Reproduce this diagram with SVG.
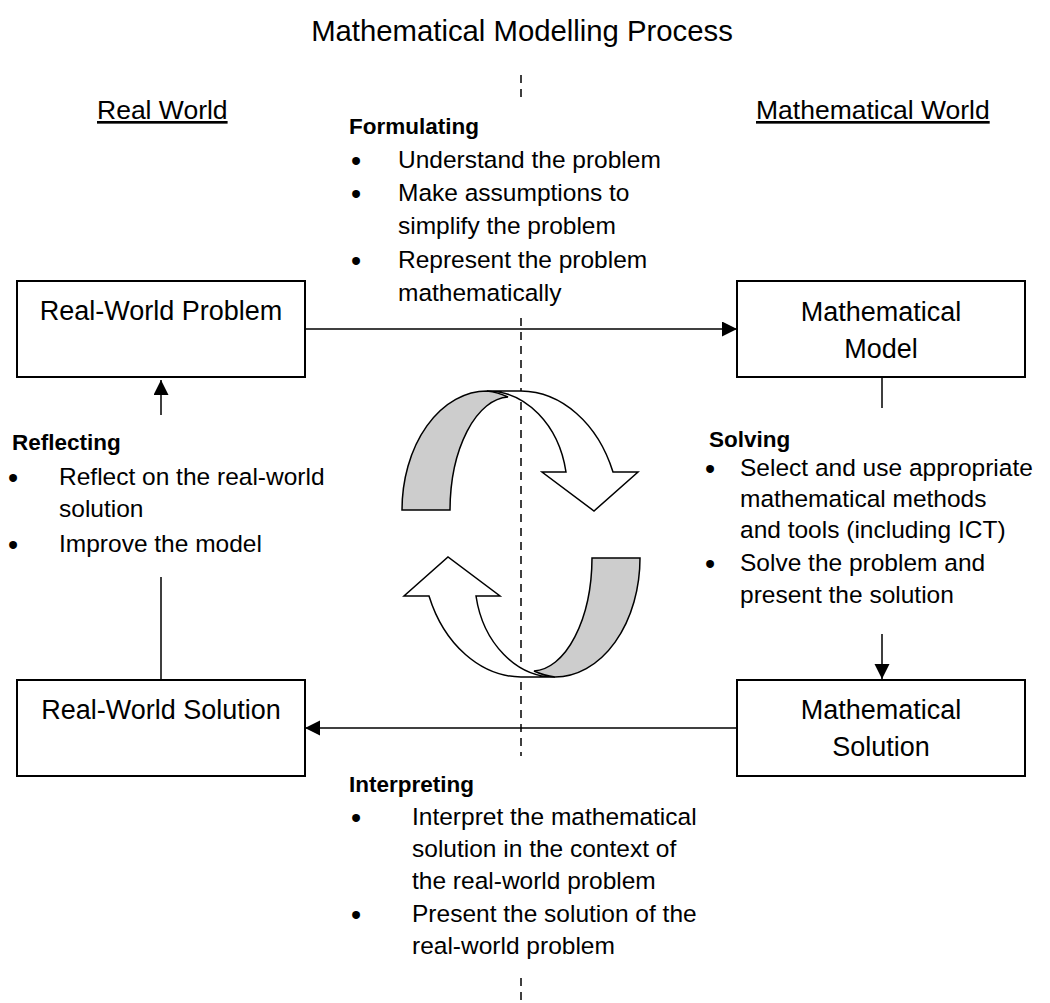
<svg xmlns="http://www.w3.org/2000/svg" width="1050" height="1003" viewBox="0 0 1050 1003">
<defs>
<style>
.t{font-family:"Liberation Sans",Arial,sans-serif;fill:#000}
.title{font-size:29.3px;text-anchor:middle}
.world{font-size:26.5px;text-decoration:underline}
.body{font-size:24.5px}
.head{font-size:22.5px;font-weight:bold}
.bul{font-size:29px}
.boxt{font-size:27px;text-anchor:middle}
.box{fill:#fff;stroke:#000;stroke-width:2}
.conn{fill:none;stroke:#000;stroke-width:1.5}
.dash{fill:none;stroke:#000;stroke-width:1.5;stroke-dasharray:8 6}
.band{stroke:#000;stroke-width:1.5;stroke-linejoin:miter}
</style>
<marker id="ah" markerUnits="userSpaceOnUse" markerWidth="16" markerHeight="16" refX="15" refY="7.5" orient="auto">
<path d="M0,0 L15,7.5 L0,15 Z" fill="#000"/>
</marker>
<g id="carrow">
<path class="band" fill="#fff" d="M487,391 L521,391 A100,129 0 0 1 613,472 L638,472 L594,511 L542,472 L566,472 A80,99 0 0 0 487,391 Z"/>
<path class="band" fill="#cdcdcd" d="M487,391 A85,119 0 0 0 402,510 L450,510 A60,114 0 0 1 508,397 A80,99 0 0 0 487,391 Z"/>
</g>
</defs>
<rect width="1050" height="1003" fill="#fff"/>
<text class="t title" x="522" y="41">Mathematical Modelling Process</text>
<text class="t world" x="97" y="119">Real World</text>
<text class="t world" x="756" y="119">Mathematical World</text>

<g id="divider">
<line class="dash" x1="521" y1="75" x2="521" y2="98"/>
<line class="dash" x1="521" y1="318" x2="521" y2="756"/>
<line class="dash" x1="521" y1="978" x2="521" y2="1001"/>
</g>

<g id="cycle">
<use href="#carrow"/>
<use href="#carrow" transform="rotate(180 521 534)"/>
</g>

<g id="connectors">
<line class="conn" x1="305" y1="329" x2="737" y2="329" marker-end="url(#ah)"/>
<path class="conn" d="M882,377 V408 M882,634 V679" marker-end="url(#ah)"/>
<line class="conn" x1="737" y1="728" x2="305" y2="728" marker-end="url(#ah)"/>
<path class="conn" d="M161,680 V577 M161,415 V380" marker-end="url(#ah)"/>
</g>

<g id="real-world-problem">
<rect class="box" x="17" y="281" width="288" height="96"/>
<text class="t boxt" x="161" y="320">Real-World Problem</text>
</g>
<g id="mathematical-model">
<rect class="box" x="737" y="281" width="288" height="96"/>
<text class="t boxt" x="881" y="321">Mathematical</text>
<text class="t boxt" x="881" y="358">Model</text>
</g>
<g id="real-world-solution">
<rect class="box" x="17" y="680" width="288" height="96"/>
<text class="t boxt" x="161" y="719">Real-World Solution</text>
</g>
<g id="mathematical-solution">
<rect class="box" x="737" y="680" width="288" height="96"/>
<text class="t boxt" x="881" y="719">Mathematical</text>
<text class="t boxt" x="881" y="756">Solution</text>
</g>

<g id="formulating">
<text class="t head" x="349" y="134">Formulating</text>
<text class="t bul" x="351" y="171">•</text>
<text class="t body" x="398" y="168">Understand the problem</text>
<text class="t bul" x="351" y="204">•</text>
<text class="t body" x="398" y="201">Make assumptions to</text>
<text class="t body" x="398" y="234">simplify the problem</text>
<text class="t bul" x="351" y="271">•</text>
<text class="t body" x="398" y="268">Represent the problem</text>
<text class="t body" x="398" y="301">mathematically</text>
</g>

<g id="reflecting">
<text class="t head" x="12" y="450">Reflecting</text>
<text class="t bul" x="8" y="488">•</text>
<text class="t body" x="59" y="485">Reflect on the real-world</text>
<text class="t body" x="59" y="517">solution</text>
<text class="t bul" x="8" y="555">•</text>
<text class="t body" x="59" y="552">Improve the model</text>
</g>

<g id="solving">
<text class="t head" x="709" y="447">Solving</text>
<text class="t bul" x="705" y="479">•</text>
<text class="t body" x="740" y="476">Select and use appropriate</text>
<text class="t body" x="740" y="507">mathematical methods</text>
<text class="t body" x="740" y="538">and tools (including ICT)</text>
<text class="t bul" x="705" y="574">•</text>
<text class="t body" x="740" y="571">Solve the problem and</text>
<text class="t body" x="740" y="603">present the solution</text>
</g>

<g id="interpreting">
<text class="t head" x="349" y="792">Interpreting</text>
<text class="t bul" x="351" y="828">•</text>
<text class="t body" x="412" y="825">Interpret the mathematical</text>
<text class="t body" x="412" y="857">solution in the context of</text>
<text class="t body" x="412" y="889">the real-world problem</text>
<text class="t bul" x="351" y="925">•</text>
<text class="t body" x="412" y="922">Present the solution of the</text>
<text class="t body" x="412" y="954">real-world problem</text>
</g>
</svg>
